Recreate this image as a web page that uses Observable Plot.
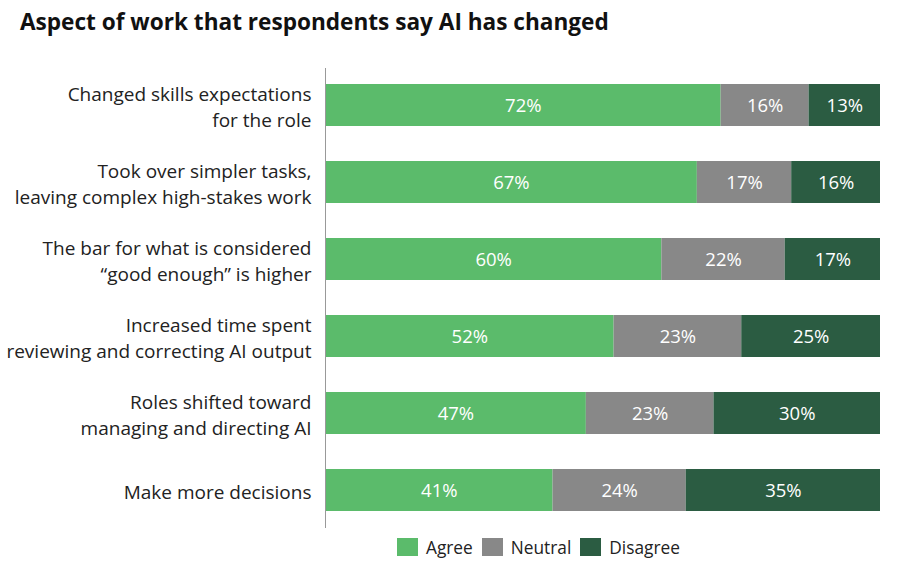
<!DOCTYPE html>
<html>
<head>
<meta charset="utf-8">
<script src="https://cdn.jsdelivr.net/npm/d3@7"></script>
<script src="https://cdn.jsdelivr.net/npm/@observablehq/plot@0.6"></script>
<style>
  body { margin: 0; background: #fff; font-family: "Open Sans", sans-serif; }
  #title { height: 44px; line-height: 44px; padding-left: 20px; font-size: 22.6px; font-weight: 700; color: #111; white-space: nowrap; }
  #legend { display: flex; align-items: center; height: 26px; padding-left: 397px; font-size: 17.3px; color: #222; }
  .item { display: flex; align-items: center; margin-right: 9px; }
  .sw { width: 21px; height: 18px; margin-right: 8px; }
</style>
</head>
<body>
<div id="title">Aspect of work that respondents say AI has changed</div>
<div id="chart"></div>
<div id="legend"></div>
<script>
const categories = [
  "Changed skills expectations\nfor the role",
  "Took over simpler tasks,\nleaving complex high-stakes work",
  "The bar for what is considered\n\u201cgood enough\u201d is higher",
  "Increased time spent\nreviewing and correcting AI output",
  "Roles shifted toward\nmanaging and directing AI",
  "Make more decisions"
];
const agree = [72, 67, 60, 52, 47, 41];
const neutral = [16, 17, 22, 23, 23, 24];
const disagree = [13, 16, 17, 25, 30, 35];
const responses = ["Agree", "Neutral", "Disagree"];
const colors = ["#5bbb6b", "#888888", "#2b5c42"];

const series = [agree, neutral, disagree];
const data = categories.flatMap((c, i) =>
  responses.map((r, j) => ({category: c, response: r, value: series[j][i]}))
);

const chart = Plot.plot({
  width: 900,
  height: 490,
  marginLeft: 325,
  marginRight: 20,
  marginTop: 24,
  marginBottom: 6,
  style: {fontFamily: "'Open Sans', sans-serif", background: "#fff"},
  x: {axis: null},
  y: {domain: categories, paddingInner: 0.45, paddingOuter: 0.21, label: null, axis: null},
  color: {domain: responses, range: colors},
  marks: [
    Plot.barX(data, Plot.stackX({x: "value", y: "category", fill: "response", offset: "normalize", order: responses})),
    Plot.text(data, Plot.stackX({x: "value", y: "category", z: "response", text: d => d.value + "%", offset: "normalize", order: responses, fill: "white", fontSize: 18.5, dy: 1})),
    Plot.ruleX([0], {stroke: "#999", strokeWidth: 1}),
    Plot.axisY({tickSize: 0, tickPadding: 14, fontSize: 19, lineHeight: 1.37, fill: "#222", label: null})
  ]
});
document.getElementById("chart").appendChild(chart);

const legend = document.getElementById("legend");
responses.forEach((r, i) => {
  const item = document.createElement("div");
  item.className = "item";
  const sw = document.createElement("div");
  sw.className = "sw";
  sw.style.background = colors[i];
  const t = document.createElement("span");
  t.textContent = r;
  item.appendChild(sw);
  item.appendChild(t);
  legend.appendChild(item);
});
</script>
</body>
</html>
